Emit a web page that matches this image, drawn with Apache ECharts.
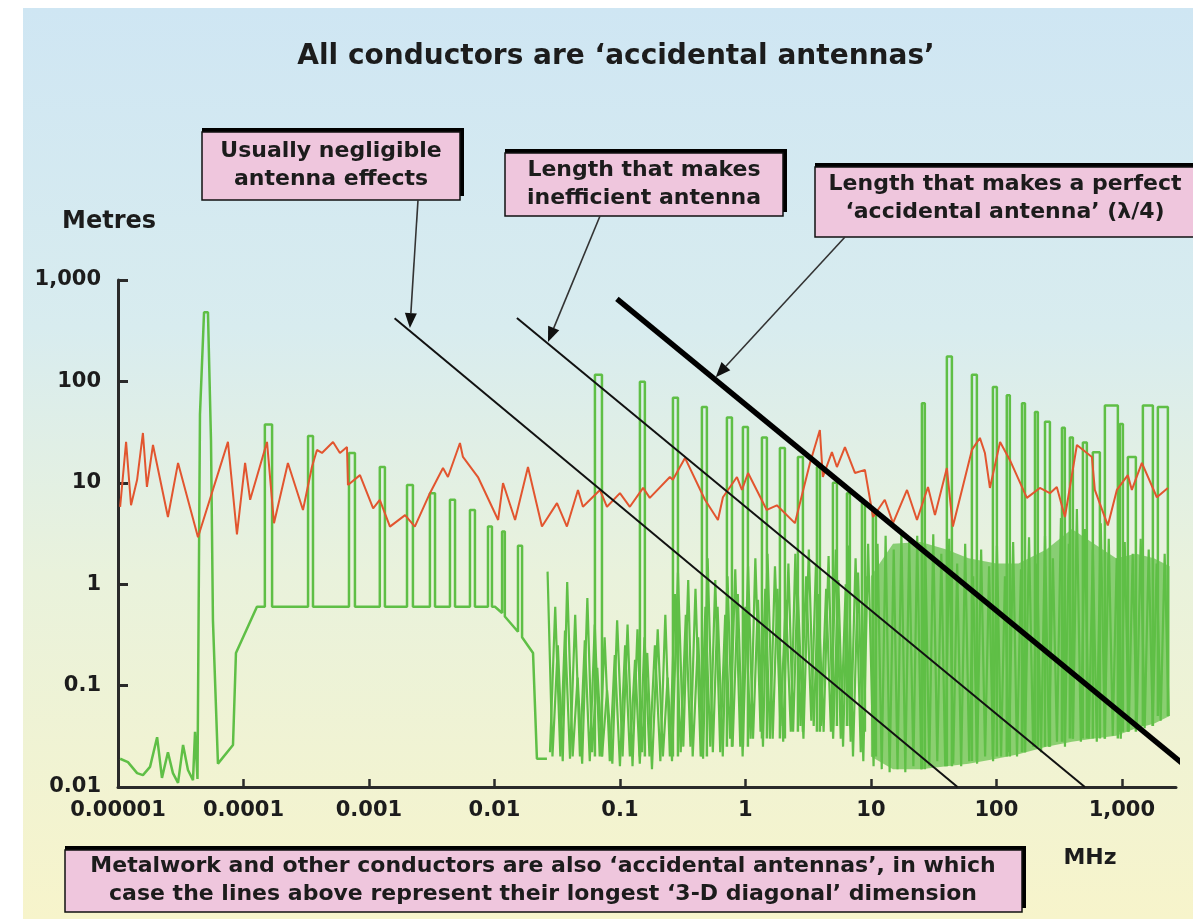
<!DOCTYPE html>
<html><head><meta charset="utf-8">
<script src="https://cdn.jsdelivr.net/npm/echarts@6/dist/echarts.min.js"></script>
<style>html,body{margin:0;padding:0;background:#fff}#c{width:1193px;height:919px}</style>
</head><body><div id="c"></div>
<script>
// ---------- data ----------
const xTickValues = [1e-5, 1e-4, 1e-3, 0.01, 0.1, 1, 10, 100, 1000];
const xTickLabels = ['0.00001', '0.0001', '0.001', '0.01', '0.1', '1', '10', '100', '1,000'];
const yTickValues = [0.01, 0.1, 1, 10, 100, 1000];
const yTickLabels = ['0.01', '0.1', '1', '10', '100', '1,000'];

// red trace
const redFreq = [1.04e-5,1.16e-5,1.27e-5,1.42e-5,1.58e-5,1.7e-5,1.9e-5,2.5e-5,3.01e-5,4.34e-5,
  7.52e-5,8.87e-5,1.03e-4,1.13e-4,1.54e-4,1.75e-4,2.26e-4,2.98e-4,3.51e-4,3.85e-4,
  4.22e-4,5.17e-4,5.87e-4,6.68e-4,6.8e-4,8.48e-4,1.08e-3,1.22e-3,1.47e-3,1.94e-3,
  2.32e-3,3.06e-3,3.89e-3,4.26e-3,5.31e-3,5.61e-3,7.39e-3,0.0107,0.0117,0.0146,
  0.0185,0.0239,0.0315,0.0378,0.0463,0.0507,0.0693,0.0788,0.1,0.12,
  0.153,0.173,0.25,0.264,0.33,0.476,0.604,0.662,0.856,0.938,
  1.05,1.48,1.78,2.48,3.27,3.92,4.14,4.89,5.36,6.21,
  7.46,8.96,10.4,12.9,15.0,19.4,23.3,28.5,32.4,40.3,
  45.0,63.8,73.9,81.0,88.8,107,128,175,222,267,
  303,352,438,577,609,773,912,1116,1201,1443,
  1900,2326];
const redMetres = [5.8,25.3,6.0,10.7,31.0,9.1,23.6,4.6,15.7,2.9,
  25.3,3.1,15.7,6.8,25.3,4.0,15.7,5.4,14.3,21.1,
  19.7,25.3,19.7,22.5,9.5,11.9,5.6,6.8,3.7,4.8,
  3.7,7.9,14.0,11.4,24.7,18.0,11.4,4.3,9.95,4.3,
  14.3,3.7,6.3,3.7,8.5,5.8,8.5,5.8,7.9,5.8,
  8.9,7.1,11.4,10.7,17.6,6.8,4.3,7.2,11.4,8.5,
  12.5,5.4,6.0,4.0,15.7,33.2,11.4,20.1,14.3,22.5,
  12.5,13.4,4.6,6.8,4.0,8.5,4.3,9.1,4.8,14.0,
  3.7,21.1,27.7,19.7,8.9,25.3,16.8,7.1,8.9,7.9,
  9.1,4.6,23.6,18.0,8.5,3.8,8.5,11.9,8.5,15.7,
  7.2,8.9];

// green trace: low-frequency part and plateau with its spikes
const greenFreq = [1.04e-5,1.2e-5,1.42e-5,1.58e-5,1.8e-5,2.05e-5,2.24e-5,2.5e-5,2.74e-5,3.01e-5,
  3.3e-5,3.61e-5,3.96e-5,4.11e-5,4.3e-5,4.5e-5,4.85e-5,5.21e-5,5.51e-5,5.71e-5,
  6.26e-5,8.25e-5,8.71e-5,1.28e-4,
  1.48e-4,1.48e-4,1.69e-4,1.69e-4,
  3.27e-4,3.27e-4,3.58e-4,3.58e-4,
  6.93e-4,6.93e-4,7.73e-4,7.73e-4,
  1.22e-3,1.22e-3,1.34e-3,1.34e-3,
  2.01e-3,2.01e-3,2.24e-3,2.24e-3,
  3.06e-3,3.06e-3,3.36e-3,3.36e-3,
  4.42e-3,4.42e-3,4.85e-3,4.85e-3,
  6.38e-3,6.38e-3,6.99e-3,6.99e-3,
  8.88e-3,8.88e-3,9.55e-3,9.55e-3,
  0.0101,
  0.0115,0.0115,0.0121,0.0121,
  0.0154,0.0154,0.0166,0.0166,
  0.0203,0.0218,0.0262];
const greenMetres = [0.019,0.0176,0.0137,0.0131,0.0158,0.031,0.0123,0.022,0.0137,0.011,
  0.026,0.0147,0.0117,0.035,0.012,47,480,480,26,0.44,
  0.017,0.026,0.21,0.6,
  0.6,37.6,37.6,0.6,
  0.6,29,29,0.6,
  0.6,19.7,19.7,0.6,
  0.6,14.3,14.3,0.6,
  0.6,9.5,9.5,0.6,
  0.6,7.9,7.9,0.6,
  0.6,6.8,6.8,0.6,
  0.6,5.4,5.4,0.6,
  0.6,3.7,3.7,0.6,
  0.6,
  0.52,3.3,3.3,0.48,
  0.34,2.4,2.4,0.3,
  0.21,0.019,0.019];

// green trace: dense high-frequency ripple
const noiseFreq = [0.0265,0.029,0.032,0.035,0.038,0.042,0.046,0.05,0.055,0.06,
  0.066,0.072,0.079,0.087,0.095,0.105,0.115,0.126,0.138,0.15,
  0.165,0.18,0.2,0.22,0.24,0.26,0.29,0.32,0.35,0.38,
  0.42,0.46,0.5,0.55,0.6,0.66,0.72,0.79,0.87,0.95,
  1.05,1.15,1.26,1.38,1.5,1.65,1.8,2.0,2.2,2.4,
  2.6,2.9,3.2,3.5,3.8,4.2,4.6,5.0,5.5,6.0,
  6.6,7.2,7.9,8.7,9.5,
  10.5,11.3,12.2,13.1,14.1,15.2,16.3,17.5,18.8,20.2,
  21.8,23.4,25.2,27.1,29.2,31.4,33.8,36.4,39.1,42.1,
  45.3,48.7,52.4,56.4,60.7,65.3,70.2,75.6,81.3,87.5,
  94.1,101,109,117,126,136,146,157,169,182,
  196,211,227,244,262,282,304,327,352,378,
  407,438,471,507,545,587,631,679,731,786,
  846,910,980,1054,1134,1220,1313,1413,1520,1636,
  1760,1894,2038,2193,2360];
const noiseMetres = [1.33,0.02,0.25,0.018,1.05,0.02,0.12,0.017,0.73,0.022,
  0.15,0.02,0.09,0.017,0.44,0.02,0.4,0.016,0.36,0.022,
  0.21,0.015,0.36,0.02,0.12,0.018,1.3,0.025,1.1,0.02,
  0.3,0.019,1.8,0.022,0.6,0.02,1.2,0.025,0.8,0.02,
  1.5,0.03,0.7,0.025,2.0,0.03,0.9,0.028,1.6,0.035,
  1.0,0.03,2.2,0.04,0.8,0.035,1.9,0.03,1.1,0.025,
  2.4,0.02,1.3,0.018,2.5,
  0.016,2.5,0.015,3.0,0.014,2.2,0.015,3.2,0.014,2.6,
  0.016,3.0,0.015,2.4,0.016,3.1,0.018,2.0,0.016,2.8,
  0.017,1.6,0.016,2.5,0.018,1.2,0.017,2.2,0.02,1.5,
  0.018,2.4,0.02,1.2,0.022,2.6,0.02,1.4,0.022,2.9,
  0.025,1.6,0.022,3.0,0.025,1.8,0.028,4.5,0.025,2.5,
  0.03,5.5,0.028,3.5,0.03,2.2,0.028,4.0,0.03,2.8,
  0.032,1.8,0.03,2.6,0.035,2.0,0.04,2.8,0.038,2.2,
  0.04,1.6,0.045,2.0,0.05];

// green trace: second, interleaved ripple strand (0.03 - 10 MHz)
const ripple2Freq = [0.0277,0.0305,0.0335,0.0365,0.04,0.044,0.048,0.0525,0.0575,0.063,
  0.069,0.0755,0.083,0.091,0.1,0.11,0.12,0.132,0.144,0.157,
  0.172,0.19,0.21,0.23,0.25,0.275,0.305,0.335,0.365,0.4,
  0.44,0.48,0.525,0.575,0.63,0.69,0.755,0.83,0.91,1.0,
  1.1,1.2,1.32,1.44,1.57,1.72,1.9,2.1,2.3,2.5,
  2.75,3.05,3.35,3.65,4.0,4.4,4.8,5.25,5.75,6.3,
  6.9,7.55,8.3,9.1];
const ripple2Metres = [0.022,0.6,0.02,0.35,0.019,0.5,0.02,0.28,0.018,0.4,
  0.02,0.3,0.018,0.2,0.016,0.25,0.02,0.18,0.017,0.3,
  0.02,0.25,0.018,0.5,0.02,0.8,0.022,0.5,0.025,0.9,
  0.02,0.6,0.025,1.1,0.022,0.5,0.03,1.4,0.025,0.6,
  0.03,1.8,0.035,0.9,0.03,1.5,0.04,0.7,0.035,2.0,
  0.04,1.2,0.045,1.6,0.04,0.9,0.035,2.2,0.03,1.0,
  0.028,1.8,0.022,1.2];

// green trace: tall resonance spikes (start, end, peak, floor)
const spikeStart = [0.0632,0.1443,0.2645,0.450,0.712,0.955,1.354,1.883,2.620,3.713,
  4.98,6.44,8.48,10.37,25.5,40.3,63.8,93.8,121,160,
  203,244,333,385,489,587,732,964,1116,1470,1936];
const spikeEnd = [0.0719,0.158,0.290,0.493,0.781,1.047,1.483,2.064,2.872,3.923,
  5.36,6.80,8.96,10.96,26.9,44.2,69.9,100.9,128,169,
  214,267,351,407,526,668,929,1019,1293,1766,2326];
const spikePeak = [116,99,69,56,44,35.5,28,22,18,14.3,
  10,7.9,6.3,5.0,61,176,116,88,73,61,
  50,40,35,28,25,20,58,38,18,58,56];
const spikeFloor = [0.02,0.02,0.02,0.02,0.025,0.025,0.03,0.03,0.035,0.035,
  0.04,0.04,0.035,0.02,0.015,0.016,0.018,0.02,0.02,0.022,
  0.025,0.025,0.028,0.03,0.03,0.03,0.03,0.035,0.035,0.04,0.05];

// green trace: solid envelope of the densest ripple
const bandFreq = [10, 15, 25, 40, 60, 100, 150, 250, 400, 600, 900, 1300, 1800, 2400];
const bandLow  = [0.02, 0.015, 0.015, 0.016, 0.017, 0.019, 0.021, 0.025, 0.028, 0.03, 0.032, 0.038, 0.042, 0.05];
const bandHigh = [1.2, 2.5, 2.6, 2.2, 1.8, 1.6, 1.6, 2.2, 3.5, 2.5, 1.8, 2.0, 1.8, 1.5];

// antenna-length lines (two end points each)
const negligibleFreq = [0.0016, 49];   const negligibleMetres = [420, 0.01];
const inefficientFreq = [0.0151, 507]; const inefficientMetres = [422, 0.01];
const perfectFreq = [0.0946, 3357];    const perfectMetres = [650, 0.0154];

// callout arrow tips (on the lines)
const arrowTipFreq = [0.00212, 0.0267, 0.58];
const arrowTipMetres = [336, 245, 110];

const titleText = 'All conductors are \u2018accidental antennas\u2019';
const calloutTexts = ['Usually negligible\nantenna effects',
  'Length that makes\ninefficient antenna',
  'Length that makes a perfect\n\u2018accidental antenna\u2019 (\u03bb/4)'];
const footText = 'Metalwork and other conductors are also \u2018accidental antennas\u2019, in which\ncase the lines above represent their longest \u20183-D diagonal\u2019 dimension';

// ---------- chart ----------
const FONT = '"DejaVu Sans", "Liberation Sans", Arial, sans-serif';
const GREEN = '#5fbf46';
const RED = '#e2552f';
const INK = '#1c1c1c';
const pairs = (xs, ys) => xs.map((x, i) => [x, ys[i]]);
function tickText(v, vals, labels) {
  for (let i = 0; i < vals.length; i++) {
    if (Math.abs(Math.log10(v) - Math.log10(vals[i])) < 1e-6) return labels[i];
  }
  return '';
}
const spikeData = [];
spikeStart.forEach((s, i) => {
  spikeData.push([s, spikeFloor[i]], [s, spikePeak[i]], [spikeEnd[i], spikePeak[i]], [spikeEnd[i], spikeFloor[i]], [spikeEnd[i], '-']);
});

const chart = echarts.init(document.getElementById('c'), null, {renderer: 'canvas'});
const axisCommon = {
  type: 'log', logBase: 10,
  splitLine: {show: false}, minorTick: {show: false},
  axisLine: {show: true, onZero: false, lineStyle: {color: '#2a2a2a', width: 3}},
};
const option = {
  animation: false,
  grid: {left: 118, right: 17, top: 280, bottom: 132},
  xAxis: Object.assign({}, axisCommon, {
    min: 1e-5, max: 2700,
    axisTick: {show: true, inside: true, length: 8, customValues: xTickValues, lineStyle: {color: '#2a2a2a', width: 2.5}},
    axisLabel: {customValues: xTickValues, margin: 13, color: INK, fontFamily: FONT, fontWeight: 'bold', fontSize: 21,
      formatter: v => tickText(v, xTickValues, xTickLabels)}
  }),
  yAxis: Object.assign({}, axisCommon, {
    min: 0.01, max: 1000,
    axisTick: {show: true, inside: true, length: 10, customValues: yTickValues, lineStyle: {color: '#2a2a2a', width: 3}},
    axisLabel: {customValues: yTickValues, margin: 17, color: INK, fontFamily: FONT, fontWeight: 'bold', fontSize: 21,
      formatter: v => tickText(v, yTickValues, yTickLabels)}
  }),
  series: [
    {type: 'custom', name: 'band', z: 1, clip: true,
      data: bandFreq.map((f, i) => [f, bandLow[i], bandHigh[i]]),
      encode: {x: 0, y: [1, 2]},
      renderItem: (params, api) => {
        if (params.dataIndex !== 0) return;
        const pts = [];
        for (let i = 0; i < bandFreq.length; i++) pts.push(api.coord([bandFreq[i], bandHigh[i]]));
        for (let i = bandFreq.length - 1; i >= 0; i--) pts.push(api.coord([bandFreq[i], bandLow[i]]));
        return {type: 'polygon', shape: {points: pts}, style: {fill: GREEN, opacity: 0.7}};
      }},
    {type: 'line', name: 'green', z: 2, symbol: 'none', data: pairs(greenFreq, greenMetres),
      lineStyle: {color: GREEN, width: 2.5}},
    {type: 'line', name: 'ripple', z: 2, symbol: 'none', data: pairs(noiseFreq, noiseMetres),
      lineStyle: {color: GREEN, width: 2.2}},
    {type: 'line', name: 'ripple2', z: 2, symbol: 'none', data: pairs(ripple2Freq, ripple2Metres),
      lineStyle: {color: GREEN, width: 2.2}},
    {type: 'line', name: 'spikes', z: 2, symbol: 'none', connectNulls: false, data: spikeData,
      lineStyle: {color: GREEN, width: 2.5}},
    {type: 'line', name: 'red', z: 3, symbol: 'none', data: pairs(redFreq, redMetres),
      lineStyle: {color: RED, width: 2}},
    {type: 'line', name: 'negligible', z: 4, symbol: 'none', clip: false, data: pairs(negligibleFreq, negligibleMetres),
      lineStyle: {color: '#111', width: 2}},
    {type: 'line', name: 'inefficient', z: 4, symbol: 'none', clip: false, data: pairs(inefficientFreq, inefficientMetres),
      lineStyle: {color: '#111', width: 2}},
    {type: 'line', name: 'perfect', z: 4, symbol: 'none', clip: false, data: pairs(perfectFreq, perfectMetres),
      lineStyle: {color: '#000', width: 5.5}}
  ]
};
chart.setOption(option);

// ---------- annotations ----------
function textEl(str, x, y, size, align) {
  return {type: 'text', x: x, y: y, z: 101,
    style: {text: str, font: 'bold ' + size + 'px ' + FONT, fill: INK,
      align: align || 'center', verticalAlign: 'middle', textAlign: align || 'center', textVerticalAlign: 'middle',
      lineHeight: Math.round(size * 1.25)}};
}
function box(x, y, w, h, str, tx, ty) {
  return [
    {type: 'rect', z: 99, shape: {x: x, y: y - 4, width: w + 4, height: h}, style: {fill: '#000'}},
    {type: 'rect', z: 100, shape: {x: x, y: y, width: w, height: h}, style: {fill: '#efc6dd', stroke: '#111', lineWidth: 1.5}},
    textEl(str, tx, ty, 22)
  ];
}
const arrowStarts = [[418, 200], [600, 216], [845, 237]];
const arrows = [];
arrowTipFreq.forEach((f, i) => {
  const t = chart.convertToPixel({gridIndex: 0}, [f, arrowTipMetres[i]]);
  const s = arrowStarts[i];
  const dx = t[0] - s[0], dy = t[1] - s[1], L = Math.hypot(dx, dy);
  const ux = dx / L, uy = dy / L, nx = -uy, ny = ux;
  const bx = t[0] - ux * 15, by = t[1] - uy * 15;
  arrows.push({type: 'line', z: 102, shape: {x1: s[0], y1: s[1], x2: bx, y2: by}, style: {stroke: '#333', lineWidth: 1.6}});
  arrows.push({type: 'polygon', z: 102, shape: {points: [t, [bx + nx * 6, by + ny * 6], [bx - nx * 6, by - ny * 6]]}, style: {fill: '#111'}});
});

const bg = {type: 'rect', z: -100, shape: {x: 23, y: 8, width: 1170, height: 911},
  style: {fill: new echarts.graphic.LinearGradient(0, 0, 0, 1, [
    {offset: 0, color: '#cfe6f3'}, {offset: 0.35, color: '#d8ecef'},
    {offset: 0.62, color: '#e9f2dc'}, {offset: 1, color: '#f7f4cb'}])}};

chart.setOption({graphic: {elements: [].concat(
  [bg],
  [textEl(titleText, 616, 57, 28)],
  [textEl('Metres', 62, 222, 24, 'left')],
  [textEl('MHz', 1090, 858, 22)],
  box(202, 132, 258, 68, calloutTexts[0], 331, 165),
  box(505, 153, 278, 63, calloutTexts[1], 644, 184),
  box(815, 167, 385, 70, calloutTexts[2], 1005, 198),
  box(65, 850, 957, 62, footText, 543, 880),
  arrows
)}});
</script></body></html>
